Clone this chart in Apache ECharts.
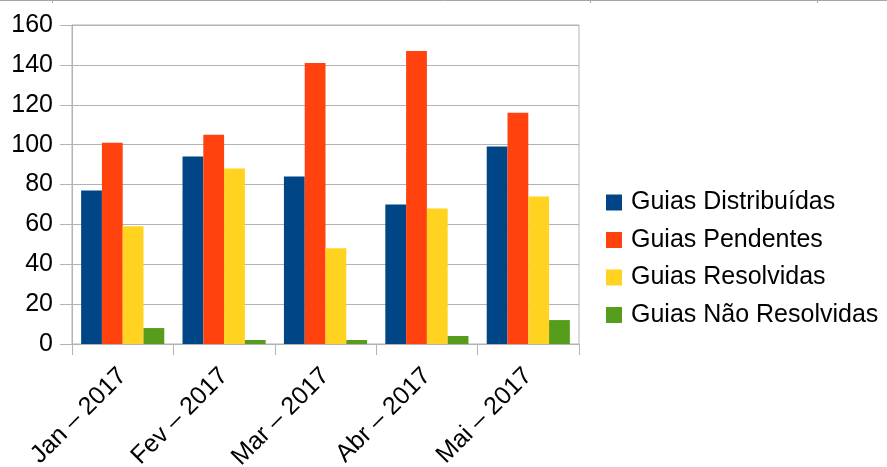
<!DOCTYPE html>
<html>
<head>
<meta charset="utf-8">
<script src="https://cdn.jsdelivr.net/npm/echarts@6/dist/echarts.min.js"></script>
<style>
  html, body { margin: 0; padding: 0; background: #fff; }
  #chart { width: 887px; height: 467px; }
</style>
</head>
<body>
<div id="chart"></div>
<script>
// dados do gráfico
var meses = ['Jan – 2017', 'Fev – 2017', 'Mar – 2017', 'Abr – 2017', 'Mai – 2017'];
var distribuidas = [77, 94, 84, 70, 99];
var pendentes = [101, 105, 141, 147, 116];
var resolvidas = [59, 88, 48, 68, 74];
var naoResolvidas = [8, 2, 2, 4, 12];
var nomes = ['Guias Distribuídas', 'Guias Pendentes', 'Guias Resolvidas', 'Guias Não Resolvidas'];
var cores = ['#004586', '#ff420e', '#ffd320', '#579d1c'];

var chart = echarts.init(document.getElementById('chart'), null, { renderer: 'canvas' });
var fonte = 'Liberation Sans';

var series = [distribuidas, pendentes, resolvidas, naoResolvidas].map(function (d, i) {
  return {
    name: nomes[i],
    type: 'bar',
    data: d,
    barGap: '0%',
    barCategoryGap: '18%',
    itemStyle: { color: cores[i] }
  };
});

var option = {
  animation: false,
  color: cores,
  textStyle: { fontFamily: fonte },
  grid: {
    left: 72, right: 308, top: 25, bottom: 123,
    outerBoundsMode: 'none',
    containLabel: false,
    show: true, borderColor: '#b3b3b3', borderWidth: 1
  },
  legend: {
    orient: 'vertical',
    left: 606,
    top: 190,
    padding: 0,
    itemWidth: 16,
    itemHeight: 16,
    itemGap: 12.5,
    icon: 'rect',
    data: nomes,
    textStyle: { fontSize: 25, color: '#000', fontFamily: fonte, lineHeight: 25, padding: [0, 0, 0, 4] }
  },
  xAxis: {
    type: 'category',
    data: meses,
    axisLine: { lineStyle: { color: '#b3b3b3' } },
    axisTick: { show: true, length: 11, lineStyle: { color: '#b3b3b3' } },
    axisLabel: {
      rotate: 45,
      interval: 0,
      fontSize: 25,
      lineHeight: 25,
      color: '#000',
      fontFamily: fonte,
      margin: 28
    }
  },
  yAxis: {
    type: 'value',
    min: 0,
    max: 160,
    interval: 20,
    axisLine: { show: true, lineStyle: { color: '#b3b3b3' } },
    axisTick: { show: true, length: 12, lineStyle: { color: '#b3b3b3' } },
    splitLine: { lineStyle: { color: '#b3b3b3' } },
    axisLabel: { fontSize: 25, color: '#000', fontFamily: fonte, margin: 19 }
  },
  graphic: [
    { type: 'line', shape: { x1: 0, y1: 0.5, x2: 887, y2: 0.5 }, style: { stroke: '#a6a6a6', lineWidth: 1 } },
    { type: 'line', shape: { x1: 52.5, y1: 0, x2: 52.5, y2: 3 }, style: { stroke: '#a6a6a6', lineWidth: 1 } },
    { type: 'line', shape: { x1: 590.5, y1: 0, x2: 590.5, y2: 3 }, style: { stroke: '#a6a6a6', lineWidth: 1 } },
    { type: 'line', shape: { x1: 817.5, y1: 0, x2: 817.5, y2: 3 }, style: { stroke: '#a6a6a6', lineWidth: 1 } }
  ],
  series: series
};

chart.setOption(option);
</script>
</body>
</html>
